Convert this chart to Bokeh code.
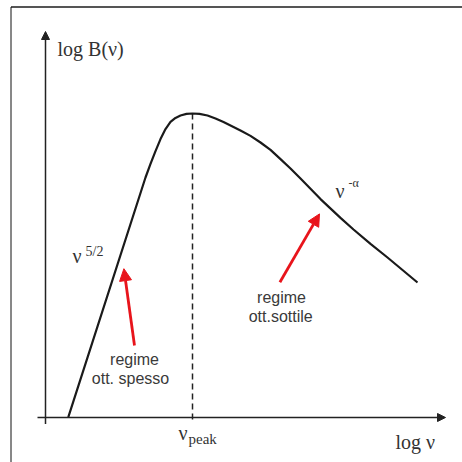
from bokeh.plotting import figure
from bokeh.models import Range1d, Arrow, NormalHead
from bokeh.core.properties import value
from bokeh.embed import file_html
from bokeh.resources import INLINE

# ---- data (log nu, log B), arbitrary units ----
log_nu = [0.57, 2.50, 2.625, 2.75, 2.875, 3.00, 3.125, 3.25, 3.375, 3.525, 3.675,
          3.85, 4.05, 4.25, 4.45, 4.65, 4.875, 5.125, 5.375, 5.625, 5.875, 6.125,
          6.375, 6.875, 7.375, 7.70, 8.125, 8.55, 9.30]
log_B = [0.01, 6.00, 6.34, 6.66, 6.96, 7.21, 7.39, 7.49, 7.55, 7.59, 7.60,
         7.59, 7.55, 7.475, 7.39, 7.29, 7.175, 7.04, 6.875, 6.69, 6.46, 6.225,
         5.975, 5.46, 4.99, 4.70, 4.34, 4.00, 3.375]
nu_peak = 3.675
B_peak = 7.60

# axis extents (arrows)
x_axis_span = [-0.2, 10.0]
y_axis_span = [-0.16, 9.65]

# red annotation arrows: tail -> tip
red_tail_x = [2.225, 5.86]
red_tail_y = [1.80, 3.38]
red_tip_x = [1.96, 6.85]
red_tip_y = [3.72, 5.09]

# regime labels
regime_x = [2.225, 2.125, 5.90, 5.88]
regime_y = [1.46, 0.98, 3.01, 2.525]
regime_txt = ["regime", "ott. spesso", "regime", "ott.sottile"]

# frame
frame_top_y = 10.2625
frame_left_x = -0.8625

DARK = "#222222"
TXT = "#333333"
RED = "#e8141b"
SERIF = value("Liberation Serif")
SANS = value("Liberation Sans")

p = figure(width=462, height=462, output_backend="svg", toolbar_location=None,
           x_range=Range1d(-1.125, 10.425), y_range=Range1d(-1.125, 10.425),
           x_axis_type=None, y_axis_type=None, min_border=0)
p.outline_line_color = None
p.grid.visible = False
p.background_fill_color = "white"

# frame lines (top and left)
p.segment(x0=[frame_left_x], y0=[frame_top_y], x1=[10.425], y1=[frame_top_y],
          line_color="#555555", line_width=2)
p.segment(x0=[frame_left_x], y0=[frame_top_y], x1=[frame_left_x], y1=[-1.125],
          line_color="#111111", line_width=1)

# axes as arrows
p.add_layout(Arrow(end=NormalHead(size=8, fill_color=DARK, line_color=DARK),
                   x_start=x_axis_span[0], y_start=0, x_end=x_axis_span[1], y_end=0,
                   line_color=DARK, line_width=1.5))
p.add_layout(Arrow(end=NormalHead(size=8, fill_color=DARK, line_color=DARK),
                   x_start=0, y_start=y_axis_span[0], x_end=0, y_end=y_axis_span[1],
                   line_color=DARK, line_width=1.5))

# dashed line at nu_peak
p.line(x=[nu_peak, nu_peak], y=[B_peak, -0.08], line_color=DARK, line_width=1.5,
       line_dash="6 4")

# spectrum curve
p.line(x=log_nu, y=log_B, line_color="#1a1a1a", line_width=2.2,
       line_join="round")

# red arrows
for tx, ty, hx, hy in zip(red_tail_x, red_tail_y, red_tip_x, red_tip_y):
    p.add_layout(Arrow(end=NormalHead(size=12, fill_color=RED, line_color=RED),
                       x_start=tx, y_start=ty, x_end=hx, y_end=hy,
                       line_color=RED, line_width=2.8))

# serif labels
def lab(x, y, t, size, align="left", baseline="alphabetic", font=SERIF, color=TXT):
    p.text(x=[x], y=[y], text=[t], text_font=font, text_font_size=size,
           text_color=color, text_align=align, text_baseline=baseline)

lab(0.30, 9.225, "log B(ν)", "20px")
lab(8.75, -0.60, "log ν", "20px")
lab(3.325, -0.375, "ν", "20px")
lab(3.575, -0.525, "peak", "15px")
lab(0.675, 4.05, "ν", "20px")
lab(1.00, 4.15, "5/2", "14px")
lab(7.25, 5.675, "ν", "20px")
lab(7.575, 5.875, "-α", "12px")

# regime labels (sans)
p.text(x=regime_x, y=regime_y, text=regime_txt, text_font=SANS,
       text_font_size="16px", text_color="#3a3a3a", text_align="center",
       text_baseline="middle")

open("out.html", "w").write(file_html(p, INLINE))
